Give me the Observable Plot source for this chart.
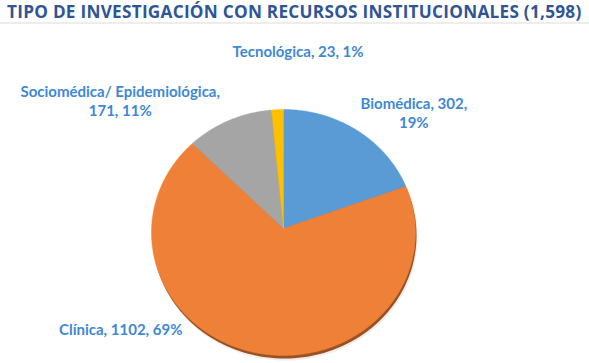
<!DOCTYPE html>
<html><head><meta charset="utf-8">
<script src="https://cdn.jsdelivr.net/npm/d3@7"></script>
<script src="https://cdn.jsdelivr.net/npm/@observablehq/plot@0.6"></script>
<style>
body{margin:0;background:#fff;width:589px;height:363px;overflow:hidden}
#title{height:22px;line-height:24px;border-bottom:2px solid #ededed;margin-bottom:6px;padding-left:7px;font:700 17.2px "Open Sans";letter-spacing:0.26px;color:#2f5597;white-space:nowrap;overflow:visible}
#chart svg{display:block}
</style></head><body>
<div id="title">TIPO DE INVESTIGACIÓN CON RECURSOS INSTITUCIONALES (1,598)</div>
<div id="chart"></div>
<script>
const categories = ["Biomédica", "Clínica", "Sociomédica/ Epidemiológica", "Tecnológica"];
const values = [302, 1102, 171, 23];
const labels = ["Biomédica, 302,\n19%", "Clínica, 1102, 69%", "Sociomédica/ Epidemiológica,\n171, 11%", "Tecnológica, 23, 1%"];
const colors = ["#5b9bd5", "#ee8137", "#a5a5a5", "#ffc000"];
const labelDx = [38, -128, -95, 22];
const labelDy = [7, -54, 7.5, -28];

const arcs = d3.pie().sort(null).value(d => d)(values);
const vertex = [0, 0.033];
const slices = [];
arcs.forEach((a, i) => {
  slices.push({name: categories[i], x: vertex[0], y: vertex[1]});
  const n = Math.max(2, Math.ceil((a.endAngle - a.startAngle) / 0.01));
  for (let k = 0; k <= n; k++) {
    const t = a.startAngle + (a.endAngle - a.startAngle) * k / n;
    slices.push({name: categories[i], x: Math.sin(t), y: Math.cos(t)});
  }
  slices.push({name: categories[i], x: vertex[0], y: vertex[1]});
});
const rim = d3.range(0, 361, 2).map(d => ({x: Math.sin(d * Math.PI / 180), y: Math.cos(d * Math.PI / 180)}));
const lab = arcs.map((a, i) => {
  const m = (a.startAngle + a.endAngle) / 2;
  return {text: labels[i], x: 1.25 * Math.sin(m), y: 1.25 * Math.cos(m), dx: labelDx[i], dy: labelDy[i]};
});

const chart = Plot.plot({
  width: 589,
  height: 333,
  margin: 0,
  x: {domain: [-1, 1], range: [151, 415], axis: null},
  y: {domain: [-1, 1], range: [325, 79], axis: null},
  color: {domain: categories, range: colors},
  marks: [
    Plot.line(rim, {x: "x", y: "y", fill: "#dcdcdc", dy: 5, dx: 2, opacity: 0.5}),
    Plot.line(rim, {x: "x", y: "y", fill: "#9a5020", dy: 3, dx: 1}),
    Plot.line(slices, {x: "x", y: "y", z: "name", fill: "name", stroke: "name", strokeWidth: 0.5}),
    ...lab.map(l => Plot.text([l], {x: "x", y: "y", text: "text", dx: l.dx, dy: l.dy, fill: "#3f88d4", fontSize: 15, fontWeight: "bold", fontFamily: "Lato", lineHeight: 1.3}))
  ]
});
document.getElementById("chart").appendChild(chart);
</script>
</body></html>
